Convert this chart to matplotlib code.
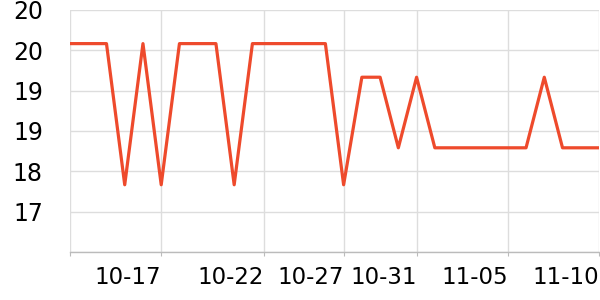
import matplotlib
matplotlib.use("Agg")
import matplotlib.pyplot as plt
import pandas as pd

# Data
dates = pd.date_range("2023-10-12", periods=30, freq="D")
values = [19.9, 19.9, 19.9, 17.8, 19.9, 17.8, 19.9, 19.9, 19.9, 17.8,
          19.9, 19.9, 19.9, 19.9, 19.9, 17.8, 19.4, 19.4, 18.35, 19.4,
          18.35, 18.35, 18.35, 18.35, 18.35, 18.35, 19.4, 18.35, 18.35, 18.35]
x_tick_dates = pd.to_datetime(["2023-10-12 00:00", "2023-10-17 00:00", "2023-10-22 15:00",
                               "2023-10-27 00:00", "2023-10-31 00:00", "2023-11-05 00:00",
                               "2023-11-10 00:00"], format="%Y-%m-%d %H:%M")
x_tick_labels = ["", "10-17", "10-22", "10-27", "10-31", "11-05", "11-10"]
y_ticks = [16.8, 17.4, 18.0, 18.6, 19.2, 19.8, 20.4]
y_tick_labels = ["", "17", "18", "19", "19", "20", "20"]

fig = plt.figure(figsize=(6, 3), dpi=100)
ax = fig.add_axes([70/600, 1-252/300, 529/600, 242/300])

ax.plot(dates, values, color="#EE4A2C", lw=2.3, solid_joinstyle="round", zorder=3)

ax.set_xlim(dates[0], dates[-1])
ax.set_ylim(16.8, 20.4)
ax.set_xticks(x_tick_dates)
ax.set_xticklabels(x_tick_labels, ha="right", fontsize=16.5)
ax.set_yticks(y_ticks)
ax.set_yticklabels(y_tick_labels, fontsize=17)

ax.grid(True, color="#dddddd", lw=1, zorder=0)
for s in ["top", "right", "left"]:
    ax.spines[s].set_visible(False)
ax.spines["bottom"].set_color("#bbbbbb")
ax.spines["bottom"].set_linewidth(1)
ax.tick_params(axis="y", length=0, pad=19.5)
ax.tick_params(axis="x", length=3, color="#bbbbbb", pad=7)

fig.savefig("out.png", dpi=100)
